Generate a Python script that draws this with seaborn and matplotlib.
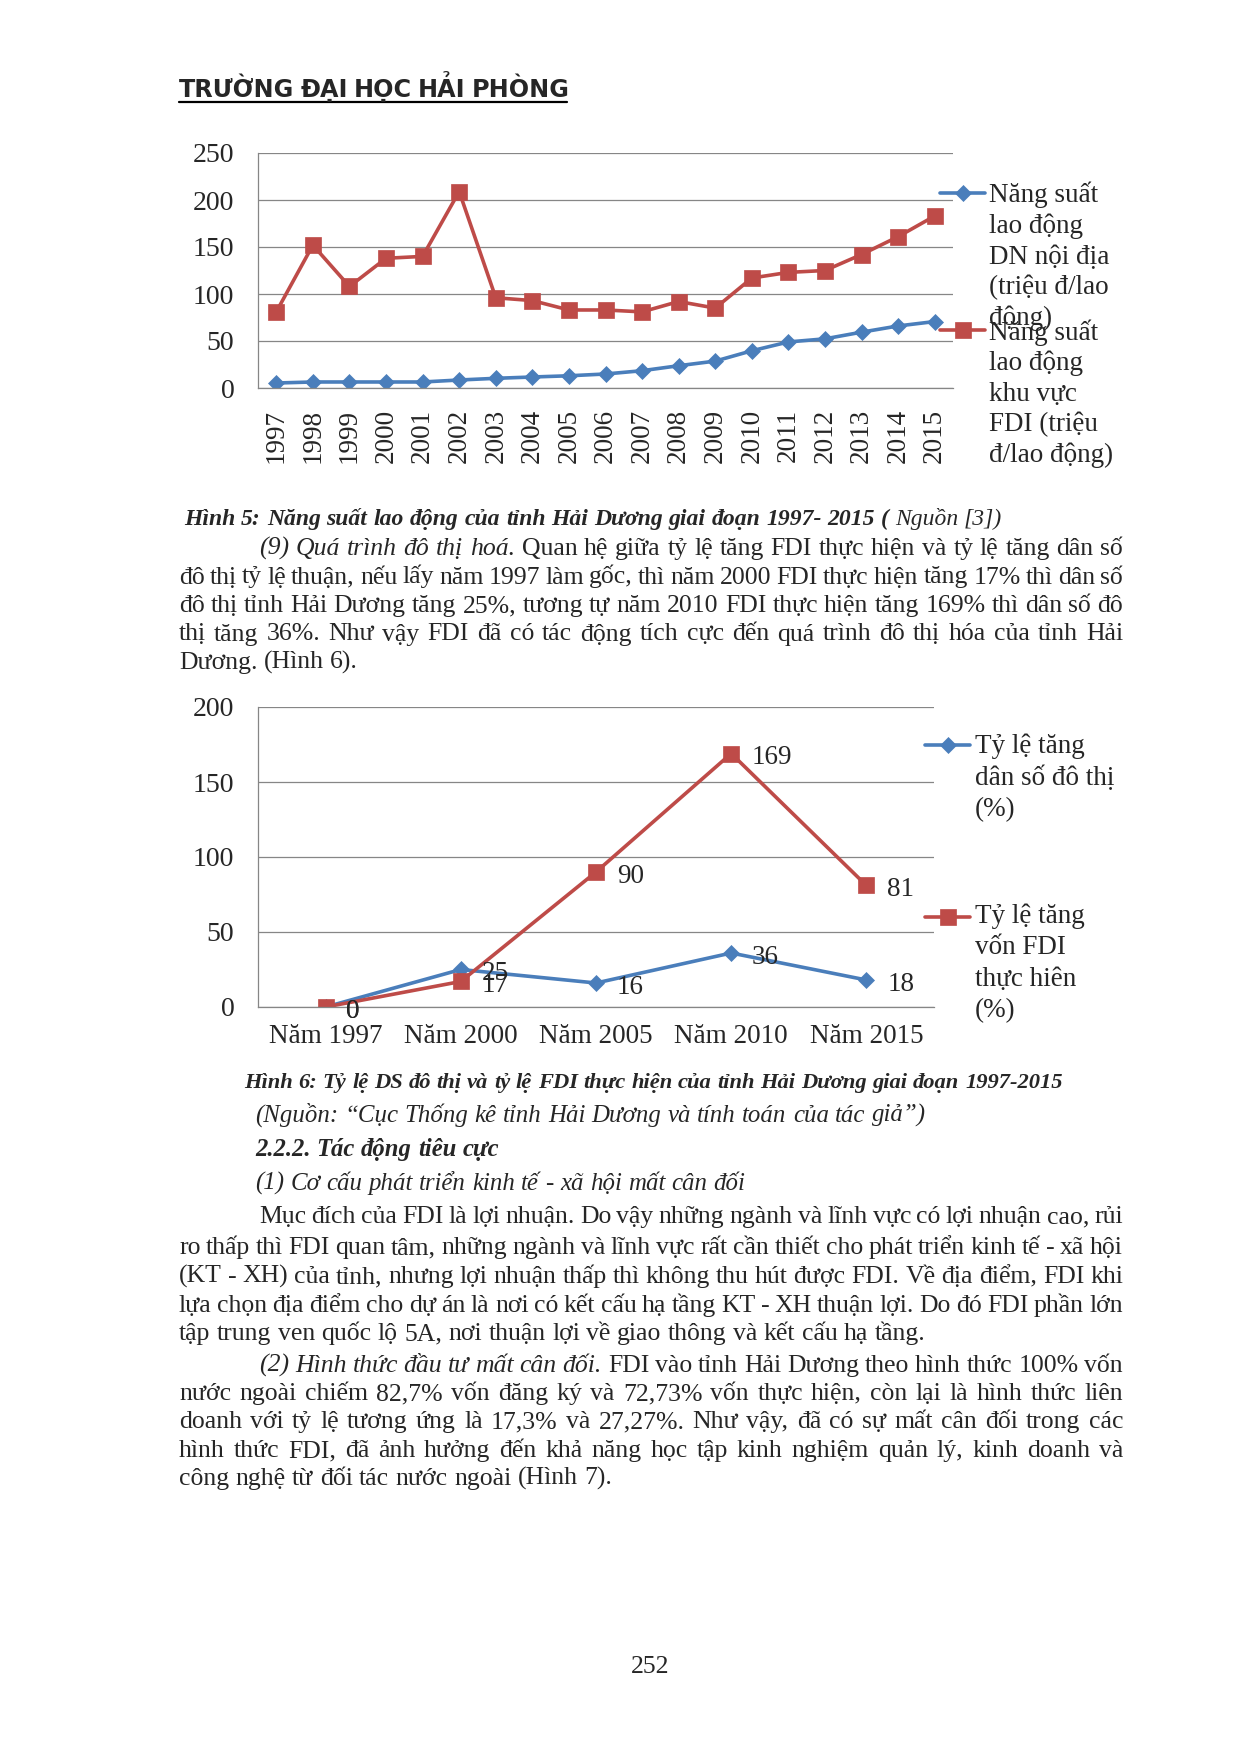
import seaborn as sns
import matplotlib.pyplot as plt
from matplotlib.lines import Line2D
import pandas as pd

# ---- data ----
years = ['1997', '1998', '1999', '2000', '2001', '2002', '2003', '2004', '2005', '2006',
         '2007', '2008', '2009', '2010', '2011', '2012', '2013', '2014', '2015']
ns_noidia = [5.3, 6.4, 6.4, 6.4, 6.4, 8.5, 10.3, 11.7, 13.0, 14.9,
             18.4, 23.7, 28.6, 39.6, 49.0, 52.3, 59.4, 66.0, 70.7]
ns_fdi = [81, 152, 108, 138, 140, 209, 96, 93, 83, 83,
          81, 92, 85, 117, 123, 125, 142, 161, 183]
leg1_noidia = ['Năng suất', 'lao động', 'DN nội địa', '(triệu đ/lao', 'động)']
leg1_fdi = ['Năng suất', 'lao động', 'khu vực', 'FDI (triệu', 'đ/lao động)']

nam = ['Năm 1997', 'Năm 2000', 'Năm 2005', 'Năm 2010', 'Năm 2015']
tl_ds = [0, 25, 16, 36, 18]
tl_fdi = [0, 17, 90, 169, 81]
leg2_ds = ['Tỷ lệ tăng', 'dân số đô thị', '(%)']
leg2_fdi = ['Tỷ lệ tăng', 'vốn FDI', 'thực hiên', '(%)']

BLUE = '#4A7EBB'
RED = '#BE4B48'
GRID = '#868686'
SERIF = ['Liberation Serif', 'DejaVu Serif']
BODY = 18.5
CH = 19.5

sns.set_style('white')
plt.rcParams['font.family'] = SERIF

W, H = 1240, 1754
fig = plt.figure(figsize=(W / 100, H / 100), dpi=100)
renderer = fig.canvas.get_renderer()


def fx(x):
    return x / W


def fy(y):
    return 1 - y / H


def add_ax(x0, y0, x1, y1):
    return fig.add_axes([fx(x0), fy(y1), (x1 - x0) / W, (y1 - y0) / H])


def style_chart(ax, cats, ymax, rot, pad):
    n = len(cats)
    ax.set_xlabel('')
    ax.set_ylabel('')
    ax.set_ylim(0, ymax)
    ax.set_yticks(range(0, ymax + 1, 50))
    ax.set_xlim(-0.5, n - 0.5)
    ax.set_xticks([i - 0.5 for i in range(n + 1)])
    ax.set_xticklabels([])
    ax.set_xticks(range(n), minor=True)
    ax.set_xticklabels(cats, minor=True, rotation=rot, fontsize=CH)
    ax.tick_params(axis='x', which='major', length=6, width=0.9, color=GRID)
    ax.tick_params(axis='x', which='minor', length=0, pad=pad)
    ax.tick_params(axis='y', length=6, width=0.9, color=GRID, pad=11, labelsize=20)
    ax.yaxis.grid(True, color=GRID, lw=0.9)
    ax.xaxis.grid(False)
    ax.set_axisbelow(True)
    for s in ['top', 'right']:
        ax.spines[s].set_visible(False)
    for s in ['left', 'bottom']:
        ax.spines[s].set_color(GRID)
        ax.spines[s].set_linewidth(0.9)


def series(ax, cats, vals, color, marker, ms):
    df = pd.DataFrame({'x': cats, 'y': vals})
    sns.pointplot(data=df, x='x', y='y', order=cats, color=color, markers=marker,
                  linestyles='-', errorbar=None, linewidth=2.6, markersize=ms,
                  markeredgewidth=0.5, ax=ax)


def legend_entry(color, marker, ms, x0, x1, y, lines, tx, base, step):
    xm = (x0 + x1) / 2
    fig.add_artist(Line2D([fx(x0), fx(xm), fx(x1)], [fy(y)] * 3, transform=fig.transFigure,
                          color=color, lw=2.6, marker=marker, markevery=[1], ms=ms, mew=0.5))
    for k, ln in enumerate(lines):
        fig.text(fx(tx), fy(base + k * step), ln, fontsize=CH, ha='left', va='baseline')


# ---- chart 1 ----
ax1 = add_ax(258, 153, 953, 388)
series(ax1, years, ns_noidia, BLUE, 'D', 8)
series(ax1, years, ns_fdi, RED, 's', 11)
style_chart(ax1, years, 250, 90, 15)
legend_entry(BLUE, 'D', 8, 940, 985, 193, leg1_noidia, 989, 202, 30.8)
legend_entry(RED, 's', 11, 940, 985, 330, leg1_fdi, 989, 340, 30.5)

# ---- chart 2 ----
ax2 = add_ax(258, 707, 934, 1007)
series(ax2, nam, tl_ds, BLUE, 'D', 8)
series(ax2, nam, tl_fdi, RED, 's', 11)
style_chart(ax2, nam, 200, 0, 12)
for i, (a, b) in enumerate(zip(tl_ds, tl_fdi)):
    ax2.annotate(str(a), (i, a), xytext=(15, -3), textcoords='offset points',
                 ha='left', va='center', fontsize=CH)
    ax2.annotate(str(b), (i, b), xytext=(15, -3), textcoords='offset points',
                 ha='left', va='center', fontsize=CH)
legend_entry(BLUE, 'D', 8, 925, 970, 745, leg2_ds, 975, 753, 31.8)
legend_entry(RED, 's', 11, 925, 970, 917, leg2_fdi, 975, 923, 31.5)

# ---- page text ----
STY = {'n': {}, 'i': {'style': 'italic'}, 'b': {'weight': 'bold'},
       'bi': {'style': 'italic', 'weight': 'bold'}}


def measure(w, st, size, family):
    t = fig.text(0, 0, w, fontsize=size, family=family, **STY[st])
    wd = t.get_window_extent(renderer).width
    t.remove()
    return wd


def put_line(segs, x0, y, x1=None, size=BODY, family=SERIF, fit=False, justify=False):
    ws = [(w, st) for txt, st in segs for w in txt.split()]
    widths = [measure(w, st, size, family) for w, st in ws]
    space = 0.25 * size * 100 / 72
    if fit:
        natural = sum(widths) + space * (len(ws) - 1)
        size = size * (x1 - x0) / natural
        widths = [measure(w, st, size, family) for w, st in ws]
        space = 0.25 * size * 100 / 72
    elif justify and len(ws) > 1:
        space = (x1 - x0 - sum(widths)) / (len(ws) - 1)
    x = x0
    for (w, st), wd in zip(ws, widths):
        fig.text(fx(x), fy(y), w, fontsize=size, family=family, ha='left', va='baseline', **STY[st])
        x += wd + space


L, R, IND = 179, 1123, 259

put_line([('TRƯỜNG ĐẠI HỌC HẢI PHÒNG', 'b')], 179, 97, 567, size=16,
         family=['DejaVu Sans'], fit=True)
fig.add_artist(Line2D([fx(179), fx(567)], [fy(101.5)] * 2, transform=fig.transFigure,
                      color='black', lw=1.6))

put_line([('Hình 5: Năng suất lao động của tỉnh Hải Dương giai đoạn 1997- 2015 (', 'bi'),
          (' Nguồn [3])', 'i')], 184, 525, 1003, fit=True)

para9 = [
    [('(9) Quá trình đô thị hoá.', 'i'), (' Quan hệ giữa tỷ lệ tăng FDI thực hiện và tỷ lệ tăng dân số', 'n')],
    [('đô thị tỷ lệ thuận, nếu lấy năm 1997 làm gốc, thì năm 2000 FDI thực hiện tăng 17% thì dân số', 'n')],
    [('đô thị tỉnh Hải Dương tăng 25%, tương tự năm 2010 FDI thực hiện tăng 169% thì dân số đô', 'n')],
    [('thị tăng 36%. Như vậy FDI đã có tác động tích cực đến quá trình đô thị hóa của tỉnh Hải', 'n')],
    [('Dương. (Hình 6).', 'n')],
]
base = [555, 583.5, 612, 640.5, 669]
for k, segs in enumerate(para9):
    put_line(segs, IND if k == 0 else L, base[k], R, justify=k < len(para9) - 1)

put_line([('Hình 6: Tỷ lệ DS đô thị và tỷ lệ FDI thực hiện của tỉnh Hải Dương giai đoạn 1997-2015', 'bi')],
         244, 1088, 1064, fit=True)
put_line([('(Nguồn: “Cục Thống kê tỉnh Hải Dương và tính toán của tác giả”)', 'i')],
         255, 1122, 925, fit=True)
put_line([('2.2.2. Tác động tiêu cực', 'bi')], 255, 1156, 500, fit=True)
put_line([('(1) Cơ cấu phát triển kinh tế - xã hội mất cân đối', 'i')], 255, 1190, 746, fit=True)

para1 = [
    [('Mục đích của FDI là lợi nhuận. Do vậy những ngành và lĩnh vực có lợi nhuận cao, rủi', 'n')],
    [('ro thấp thì FDI quan tâm, những ngành và lĩnh vực rất cần thiết cho phát triển kinh tế - xã hội', 'n')],
    [('(KT - XH) của tỉnh, nhưng lợi nhuận thấp thì không thu hút được FDI. Về địa điểm, FDI khi', 'n')],
    [('lựa chọn địa điểm cho dự án là nơi có kết cấu hạ tầng KT - XH thuận lợi. Do đó FDI phần lớn', 'n')],
    [('tập trung ven quốc lộ 5A, nơi thuận lợi về giao thông và kết cấu hạ tầng.', 'n')],
]
base = [1223, 1254, 1283, 1312, 1340]
for k, segs in enumerate(para1):
    put_line(segs, IND if k == 0 else L, base[k], R, justify=k < len(para1) - 1)

para2 = [
    [('(2) Hình thức đầu tư mất cân đối.', 'i'), (' FDI vào tỉnh Hải Dương theo hình thức 100% vốn', 'n')],
    [('nước ngoài chiếm 82,7% vốn đăng ký và 72,73% vốn thực hiện, còn lại là hình thức liên', 'n')],
    [('doanh với tỷ lệ tương ứng là 17,3% và 27,27%. Như vậy, đã có sự mất cân đối trong các', 'n')],
    [('hình thức FDI, đã ảnh hưởng đến khả năng học tập kinh nghiệm quản lý, kinh doanh và', 'n')],
    [('công nghệ từ đối tác nước ngoài (Hình 7).', 'n')],
]
base = [1372, 1400, 1428, 1457, 1485]
for k, segs in enumerate(para2):
    put_line(segs, IND if k == 0 else L, base[k], R, justify=k < len(para2) - 1)

fig.text(fx(650), fy(1673), '252', fontsize=BODY, ha='center', va='baseline')

fig.savefig('out.png', dpi=100, facecolor='white')
